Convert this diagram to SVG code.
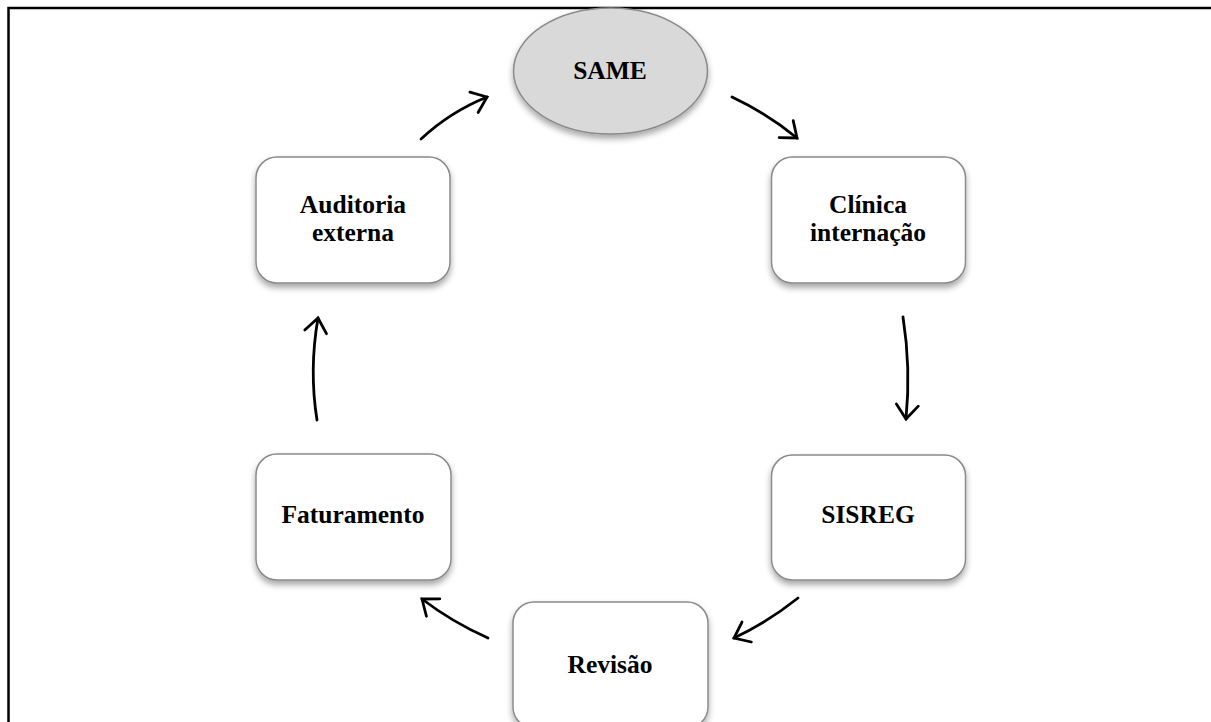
<svg xmlns="http://www.w3.org/2000/svg" width="1211" height="722" viewBox="0 0 1211 722">
<defs>
<filter id="sh" x="-20%" y="-20%" width="140%" height="150%">
<feDropShadow dx="0" dy="4" stdDeviation="3" flood-color="#000" flood-opacity="0.35"/>
</filter>
<marker id="ah" markerWidth="24" markerHeight="26" refX="12" refY="10" orient="auto" markerUnits="userSpaceOnUse" viewBox="-6 -3 24 26">
<path d="M-2,-1 L12,10 L-2,21" fill="none" stroke="#000" stroke-width="2.8" stroke-linecap="round" stroke-linejoin="miter"/>
</marker>
</defs>
<style>
.box{fill:#fff;stroke:#8a8a8a;stroke-width:1.5;filter:url(#sh)}
.ell{fill:#d9d9d9;stroke:#8a8a8a;stroke-width:1.5;filter:url(#sh)}
.t{font-family:"Liberation Serif","Times New Roman",serif;font-weight:bold;font-size:25.5px;fill:#000;text-anchor:middle}
.c{fill:none;stroke:#000;stroke-width:2.8;stroke-linecap:round;marker-end:url(#ah)}
</style>
<rect width="1211" height="722" fill="#fff"/>
<path d="M8.5,722 L8.5,8 L1211,8" fill="none" stroke="#000" stroke-width="2.5"/>
<g id="connectors">
<path class="c" d="M421,139 Q450,112 487,97"/>
<path class="c" d="M732,97 Q768,114 797,138"/>
<path class="c" d="M903,317 Q911,368 906,419"/>
<path class="c" d="M798,598 Q768,622 734,638"/>
<path class="c" d="M488,638 Q452,622 422,599"/>
<path class="c" d="M317,420 Q309,370 318,318"/>
</g>
<g id="same">
<ellipse class="ell" cx="610.5" cy="71" rx="97" ry="63"/>
<text class="t" x="610" y="79">SAME</text>
</g>
<g id="clinica">
<rect class="box" x="771.5" y="157" width="194" height="126" rx="21"/>
<text class="t" x="868" y="213">Clínica</text>
<text class="t" x="868" y="241">internação</text>
</g>
<g id="sisreg">
<rect class="box" x="771.5" y="455" width="194" height="125" rx="21"/>
<text class="t" x="868" y="523">SISREG</text>
</g>
<g id="revisao">
<rect class="box" x="513" y="602" width="195" height="126" rx="21"/>
<text class="t" x="610" y="673">Revisão</text>
</g>
<g id="faturamento">
<rect class="box" x="256" y="454" width="195" height="126" rx="21"/>
<text class="t" x="353" y="523">Faturamento</text>
</g>
<g id="auditoria">
<rect class="box" x="256" y="157" width="194" height="126" rx="21"/>
<text class="t" x="353" y="213">Auditoria</text>
<text class="t" x="353" y="241">externa</text>
</g>
</svg>
